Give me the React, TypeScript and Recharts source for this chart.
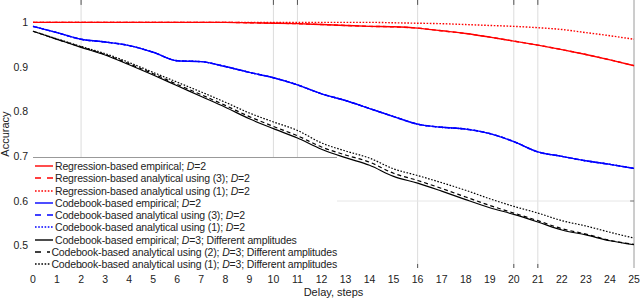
import React from 'react';
import { LineChart, Line, XAxis, YAxis, ReferenceLine, Legend } from 'recharts';

const steps = [0, 1, 2, 3, 4, 5, 6, 7, 8, 9, 10, 11, 12, 13, 14, 15, 16, 17, 18, 19, 20, 21, 22, 23, 24, 25];

const regEmp = [1, 1, 1, 1, 1, 1, 1, 1, 1, 0.999, 0.998, 0.997, 0.995, 0.993, 0.991, 0.99, 0.987, 0.981, 0.975, 0.967, 0.958, 0.949, 0.939, 0.928, 0.916, 0.903];
const regAn3 = [1, 1, 1, 1, 1, 1, 1, 1, 1, 0.999, 0.998, 0.997, 0.995, 0.993, 0.991, 0.99, 0.987, 0.981, 0.975, 0.967, 0.958, 0.949, 0.939, 0.928, 0.916, 0.903];
const regAn1 = [1, 1, 1, 1, 1, 1, 1, 1, 1, 1, 1, 1, 1, 1, 1, 0.999, 0.998, 0.997, 0.995, 0.993, 0.991, 0.988, 0.984, 0.977, 0.97, 0.962];
const cbEmp = [0.991, 0.977, 0.962, 0.956, 0.948, 0.933, 0.914, 0.912, 0.901, 0.888, 0.876, 0.86, 0.84, 0.825, 0.807, 0.789, 0.772, 0.765, 0.761, 0.751, 0.733, 0.71, 0.7, 0.69, 0.682, 0.673];
const cbAn3 = [0.991, 0.977, 0.962, 0.956, 0.948, 0.933, 0.914, 0.912, 0.901, 0.888, 0.876, 0.86, 0.84, 0.825, 0.807, 0.789, 0.772, 0.765, 0.761, 0.751, 0.733, 0.71, 0.7, 0.69, 0.682, 0.673];
const cbAn1 = [0.991, 0.977, 0.962, 0.956, 0.948, 0.933, 0.914, 0.912, 0.901, 0.888, 0.876, 0.86, 0.84, 0.825, 0.807, 0.789, 0.772, 0.765, 0.761, 0.751, 0.733, 0.71, 0.7, 0.69, 0.682, 0.673];
const cb3Emp = [0.98, 0.962, 0.944, 0.927, 0.905, 0.882, 0.858, 0.834, 0.81, 0.784, 0.762, 0.741, 0.716, 0.697, 0.68, 0.655, 0.64, 0.622, 0.603, 0.585, 0.57, 0.553, 0.535, 0.524, 0.511, 0.502];
const cb3An2 = [0.98, 0.962, 0.945, 0.928, 0.907, 0.885, 0.861, 0.838, 0.814, 0.789, 0.767, 0.746, 0.721, 0.703, 0.687, 0.662, 0.646, 0.628, 0.609, 0.59, 0.573, 0.556, 0.538, 0.526, 0.512, 0.503];
const cb3An1 = [0.98, 0.963, 0.946, 0.93, 0.91, 0.888, 0.866, 0.844, 0.821, 0.797, 0.777, 0.758, 0.73, 0.712, 0.696, 0.672, 0.657, 0.641, 0.624, 0.605, 0.588, 0.573, 0.556, 0.544, 0.53, 0.517];

const yTicks = [0.5, 0.6, 0.7, 0.8, 0.9, 1];
const gridX = [2, 10, 11, 16, 20, 21];

const series = [
  { key: 'regEmp', values: regEmp, color: '#ff0000', dash: undefined, label: 'Regression-based empirical; D=2' },
  { key: 'regAn3', values: regAn3, color: '#ff0000', dash: 'dash', label: 'Regression-based analytical using (3); D=2' },
  { key: 'regAn1', values: regAn1, color: '#ff0000', dash: 'dot', label: 'Regression-based analytical using (1); D=2' },
  { key: 'cbEmp', values: cbEmp, color: '#0000ff', dash: undefined, label: 'Codebook-based empirical; D=2' },
  { key: 'cbAn3', values: cbAn3, color: '#0000ff', dash: 'dash', label: 'Codebook-based analytical using (3); D=2' },
  { key: 'cbAn1', values: cbAn1, color: '#0000ff', dash: 'dot', label: 'Codebook-based analytical using (1); D=2' },
  { key: 'cb3Emp', values: cb3Emp, color: '#000000', dash: undefined, label: 'Codebook-based empirical; D=3; Different amplitudes' },
  { key: 'cb3An2', values: cb3An2, color: '#000000', dash: 'dash', label: 'Codebook-based analytical using (2); D=3; Different amplitudes' },
  { key: 'cb3An1', values: cb3An1, color: '#000000', dash: 'dot', label: 'Codebook-based analytical using (1); D=3; Different amplitudes' },
];

// draw order: hidden duplicates first
const drawOrder = ['cbAn1', 'cbAn3', 'cbEmp', 'regAn3', 'regEmp', 'regAn1', 'cb3Emp', 'cb3An2', 'cb3An1'];

const plotDash: Record<string, string> = { dash: '4 3', dot: '1.6 1.6' };
const legendDash: Record<string, string> = { dash: '6 6', dot: '1.6 1.6' };

const data = steps.map((s, i) => {
  const row: any = { step: s };
  series.forEach(se => { row[se.key] = se.values[i]; });
  return row;
});

const fontFamily = '"Liberation Sans", Arial, Helvetica, sans-serif';

const LegendLabel = ({ text }: { text: string }) => {
  const parts = text.split('D=');
  return (
    <span>
      {parts.map((p, i) => (
        <React.Fragment key={i}>
          {i > 0 && <><i>D</i>=</>}
          {p}
        </React.Fragment>
      ))}
    </span>
  );
};

const CustomLegend = () => (
  <div style={{ paddingTop: 2 }}>
    {series.map(se => (
      <div key={se.key} style={{ display: 'flex', alignItems: 'center', height: 12.25, whiteSpace: 'nowrap' }}>
        <svg width={20} height={8} style={{ marginLeft: 1, marginRight: 1 }}>
          <line x1={1} y1={4} x2={19} y2={4} stroke={se.color} strokeWidth={1.4} strokeDasharray={se.dash ? legendDash[se.dash] : undefined} />
        </svg>
        <span style={{ fontSize: 10.5, color: '#222', letterSpacing: -0.15 }}>
          <LegendLabel text={se.label} />
        </span>
      </div>
    ))}
  </div>
);

export default function App() {
  return (
    <div style={{ position: 'absolute', left: 0, top: 0, width: 640, height: 300, background: '#fff', fontFamily }}>
      <LineChart width={640} height={300} data={data} margin={{ top: 0, right: 6, bottom: 0, left: 0 }}>
        <XAxis
          dataKey="step"
          type="number"
          domain={[0, 25]}
          ticks={steps}
          interval={0}
          height={32}
          tickLine={false}
          axisLine={false}
          tick={{ fontSize: 10.5, fill: '#222', fontFamily }}
          label={{ value: 'Delay, steps', position: 'insideBottom', offset: 4, style: { fontSize: 11, fill: '#222', fontFamily } }}
        />
        <YAxis
          type="number"
          domain={[0.45, 1.05]}
          ticks={yTicks}
          allowDataOverflow
          width={33}
          tickLine={false}
          axisLine={false}
          tickSize={3}
          tickMargin={2}
          tickFormatter={(v: number) => (v === 1 ? '1' : v.toFixed(1))}
          tick={{ fontSize: 10.5, fill: '#222', fontFamily }}
          label={{ value: 'Accuracy', angle: -90, position: 'insideLeft', offset: 5, style: { textAnchor: 'middle', fontSize: 11, fill: '#222', fontFamily } }}
        />
        {gridX.map(x => (
          <ReferenceLine key={'g' + x} x={x} stroke="#dcdcdc" strokeWidth={1} />
        ))}
        <ReferenceLine y={0.6} stroke="#e6e6e6" strokeWidth={1} />
        <ReferenceLine x={25} stroke="#9a9a9a" strokeWidth={1} />
        {gridX.map(x => (
          <ReferenceLine key={'tt' + x} segment={[{ x, y: 1.05 }, { x, y: 1.039 }]} stroke="#555" strokeWidth={1} />
        ))}
        {gridX.map(x => (
          <ReferenceLine key={'tb' + x} segment={[{ x, y: 0.45 }, { x, y: 0.459 }]} stroke="#555" strokeWidth={1} />
        ))}
        <ReferenceLine segment={[{ x: 24.84, y: 0.6 }, { x: 25, y: 0.6 }]} stroke="#777" strokeWidth={1} />
        {drawOrder.map(k => {
          const se = series.find(s => s.key === k)!;
          return (
            <Line
              key={k}
              type="monotone"
              dataKey={k}
              name={se.label}
              stroke={se.color}
              strokeWidth={k.startsWith('cb3') ? 1.2 : 1.4}
              strokeDasharray={se.dash ? plotDash[se.dash] : undefined}
              dot={false}
              activeDot={false}
              isAnimationActive={false}
            />
          );
        })}
        <Legend
          layout="vertical"
          align="center"
          verticalAlign="middle"
          content={() => <CustomLegend />}
          wrapperStyle={{ left: 33, top: 157, width: 304, height: 108, background: '#fff', borderTop: '1px solid #999', fontFamily, lineHeight: 'normal' }}
        />
      </LineChart>
    </div>
  );
}
